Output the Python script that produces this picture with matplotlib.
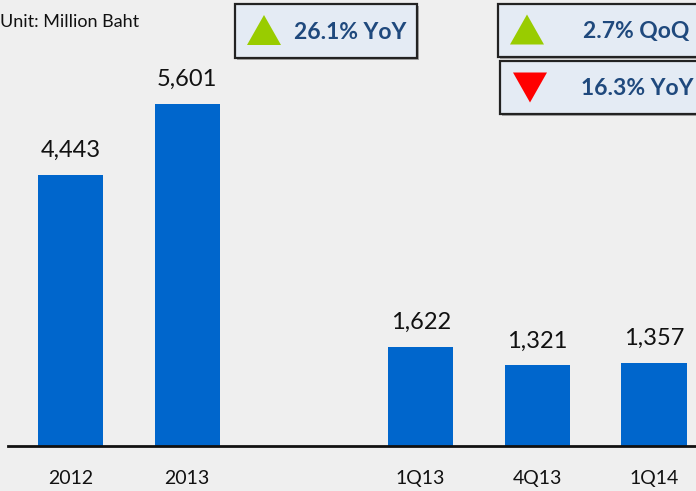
import numpy as np
import matplotlib.pyplot as plt
from matplotlib.patches import Rectangle, Polygon

# data
categories = ['2012', '2013', '1Q13', '4Q13', '1Q14']
positions = [0, 1, 3, 4, 5]   # gap between annual and quarterly bars
values = [4443, 5601, 1622, 1321, 1357]
badges = [('26.1% YoY', 'up'), ('2.7% QoQ', 'up'), ('16.3% YoY', 'down')]

plt.rcParams['font.family'] = ['Lato', 'DejaVu Sans']

W, H = 696, 491
fig = plt.figure(figsize=(W / 100, H / 100), dpi=100)
fig.patch.set_facecolor('#efefef')

# main axes (placed in pixel terms)
ax = fig.add_axes([8 / W, 45 / H, 688 / W, 446 / H])
ax.set_facecolor('none')
bars = ax.bar(positions, values, width=0.56, color='#0066cc', zorder=2)
ax.bar_label(bars, labels=[f'{v:,}' for v in values], padding=10,
             fontsize=17, color='#111111')
ax.set_xlim(-0.536, 5.36)
ax.set_ylim(0, 7304)
ax.set_xticks(positions)
ax.set_xticklabels(categories, fontsize=14, color='#111111')
ax.tick_params(axis='x', length=0, pad=17)
ax.set_yticks([])
for s in ['left', 'right', 'top']:
    ax.spines[s].set_visible(False)
ax.spines['bottom'].set_linewidth(2)
ax.spines['bottom'].set_color('#111111')

# overlay in pixel coords for unit text and badges
ov = fig.add_axes([0, 0, 1, 1])
ov.set_xlim(0, W)
ov.set_ylim(H, 0)
ov.axis('off')
ov.patch.set_alpha(0)

ov.text(0, 22, 'Unit: Million Baht', fontsize=13, va='center', ha='left',
        color='#111111')

boxes = [(235, 4, 182, 54), (498, 4, 210, 53), (500, 61, 210, 53)]
text_pos = [(350, 'center'), (583, 'left'), (581, 'left')]
for (bx, by, bw, bh), (label, kind), (tx, tha) in zip(boxes, badges, text_pos):
    ov.add_patch(Rectangle((bx + 2, by + 2), bw, bh, facecolor='#a8a8a8',
                           edgecolor='none', zorder=1))
    ov.add_patch(Rectangle((bx, by), bw, bh, facecolor='#e4ebf4',
                           edgecolor='#222222', linewidth=1.6, zorder=2))
    tri_x = bx + 12
    cy = by + bh / 2
    if kind == 'up':
        pts = [(tri_x, cy + 14), (tri_x + 34, cy + 14), (tri_x + 17, cy - 16)]
        col = '#99cc00'
    else:
        pts = [(tri_x + 1, cy - 15), (tri_x + 35, cy - 15), (tri_x + 18, cy + 15)]
        col = '#ff0000'
    ov.add_patch(Polygon(pts, closed=True, facecolor=col, edgecolor='none',
                         zorder=3))
    ov.text(tx, cy + 1, label, fontsize=16.5, fontweight='bold', color='#1f497d',
            ha=tha, va='center', zorder=4)

fig.savefig('out.png', dpi=100, facecolor=fig.get_facecolor())
